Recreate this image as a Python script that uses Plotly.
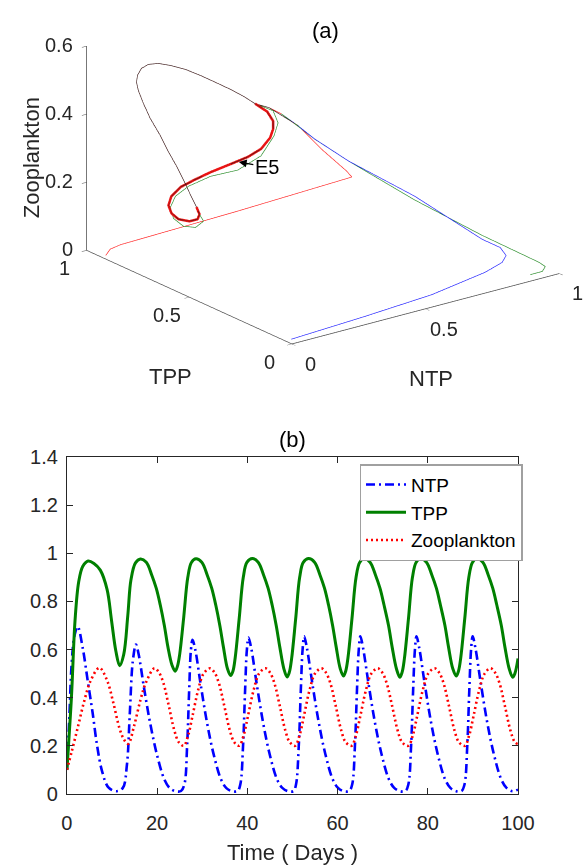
import plotly.graph_objects as go

FONT = "Liberation Sans"

# ---------------- panel (b): time series ----------------
ntp_t = [0.0, 0.5, 1.05, 1.7, 2.4, 3.5, 4.6, 5.7, 6.7, 7.8, 9.2, 11.0, 12.4, 13.3, 13.95, 14.6, 15.3,
         15.9, 17.1, 18.5, 20.0, 21.6, 22.8, 24.1, 25.3, 26.05, 26.65, 27.1, 27.5, 27.85,
         28.45, 29.65, 31.05, 32.55, 34.15, 35.35, 36.65, 37.85, 38.45, 39.05, 39.5, 39.9, 40.25,
         40.85, 42.05, 43.45, 44.95, 46.55, 47.75, 49.05, 50.25, 50.8, 51.4, 51.85, 52.25, 52.6,
         53.2, 54.4, 55.8, 57.3, 58.9, 60.1, 61.4, 62.6, 63.25, 63.85, 64.3, 64.7, 65.05,
         65.65, 66.85, 68.25, 69.75, 71.35, 72.55, 73.85, 75.05, 75.7, 76.3, 76.75, 77.15, 77.5,
         78.1, 79.3, 80.7, 82.2, 83.8, 85.0, 86.3, 87.5, 88.15, 88.75, 89.2, 89.6, 89.95,
         90.55, 91.75, 93.15, 94.65, 96.25, 97.45, 98.75, 100.0]
ntp_v = [0.10, 0.30, 0.54, 0.66, 0.695, 0.607, 0.472, 0.337, 0.20, 0.094, 0.027, 0.011, 0.025, 0.12, 0.337, 0.55, 0.621,
         0.58, 0.44, 0.29, 0.16, 0.06, 0.024, 0.011, 0.012, 0.04, 0.2, 0.43, 0.6, 0.64,
         0.60, 0.455, 0.297, 0.163, 0.061, 0.024, 0.011, 0.012, 0.04, 0.2, 0.43, 0.6, 0.65,
         0.607, 0.46, 0.30, 0.165, 0.062, 0.025, 0.011, 0.012, 0.04, 0.2, 0.43, 0.6, 0.655,
         0.607, 0.46, 0.30, 0.165, 0.062, 0.025, 0.011, 0.012, 0.04, 0.2, 0.43, 0.6, 0.655,
         0.607, 0.46, 0.30, 0.165, 0.062, 0.025, 0.011, 0.012, 0.04, 0.2, 0.43, 0.6, 0.655,
         0.607, 0.46, 0.30, 0.165, 0.062, 0.025, 0.011, 0.012, 0.04, 0.2, 0.43, 0.6, 0.655,
         0.607, 0.46, 0.30, 0.165, 0.062, 0.025, 0.011, 0.018]

tpp_t = [0.0, 1.0, 1.8, 2.6, 3.5, 4.7, 6.0, 7.4, 8.9, 9.9, 10.85, 11.7, 12.6, 13.5, 14.2, 15.2, 16.3,
         17.6, 18.8, 19.8, 20.7, 21.6, 22.4, 23.3, 24.0, 24.5, 25.0, 25.9, 26.8, 27.6, 28.6,
         29.9, 31.1, 32.1, 33.0, 33.9, 34.7, 35.6, 36.3, 36.8, 37.3, 38.2, 39.1, 39.9, 41.1,
         42.4, 43.6, 44.6, 45.5, 46.4, 47.2, 48.1, 48.8, 49.3, 49.8, 50.7, 51.6, 52.4, 53.6,
         54.9, 56.1, 57.1, 58.0, 58.9, 59.7, 60.6, 61.3, 61.8, 62.3, 63.2, 64.1, 64.9, 65.9,
         67.2, 68.4, 69.4, 70.3, 71.3, 72.1, 73.05, 73.8, 74.3, 74.8, 75.7, 76.6, 77.4, 78.4,
         79.7, 80.9, 81.9, 82.8, 83.8, 84.6, 85.55, 86.3, 86.8, 87.3, 88.2, 89.1, 89.9, 90.9,
         92.2, 93.4, 94.4, 95.3, 96.3, 97.1, 98.05, 98.8, 99.3, 100.0]
tpp_v = [0.10, 0.40, 0.72, 0.88, 0.945, 0.968, 0.958, 0.93, 0.85, 0.72, 0.594, 0.533, 0.58, 0.742, 0.89, 0.96, 0.976,
         0.963, 0.91, 0.855, 0.785, 0.70, 0.61, 0.535, 0.51, 0.53, 0.58, 0.735, 0.90, 0.962, 0.977,
         0.963, 0.91, 0.855, 0.785, 0.70, 0.61, 0.52, 0.492, 0.51, 0.565, 0.73, 0.90, 0.962, 0.978,
         0.963, 0.91, 0.855, 0.785, 0.70, 0.61, 0.52, 0.486, 0.505, 0.56, 0.725, 0.90, 0.962, 0.978,
         0.963, 0.91, 0.855, 0.785, 0.70, 0.61, 0.52, 0.49, 0.51, 0.565, 0.73, 0.90, 0.962, 0.978,
         0.963, 0.91, 0.855, 0.785, 0.70, 0.61, 0.52, 0.485, 0.505, 0.56, 0.725, 0.90, 0.962, 0.978,
         0.963, 0.91, 0.855, 0.785, 0.70, 0.61, 0.52, 0.49, 0.51, 0.565, 0.73, 0.90, 0.962, 0.978,
         0.963, 0.91, 0.855, 0.785, 0.70, 0.61, 0.52, 0.485, 0.50, 0.563]

zoo_t = [0.0, 1.05, 2.5, 3.9, 5.3, 7.2, 8.9, 10.3, 11.7, 12.7, 13.6, 14.9, 16.3, 17.4, 19.4,
         20.4, 21.4, 22.6, 23.8, 24.8, 25.9, 26.9, 27.8, 29.1, 30.3, 31.7,
         32.7, 33.7, 34.9, 36.1, 37.1, 38.2, 39.2, 40.1, 41.4, 42.6, 44.0,
         45.0, 46.0, 47.2, 48.4, 49.4, 50.6, 51.6, 52.5, 53.8, 55.0, 56.4,
         57.4, 58.4, 59.6, 60.8, 61.8, 63.1, 64.1, 65.0, 66.3, 67.5, 68.9,
         69.9, 70.9, 72.1, 73.3, 74.3, 75.7, 76.7, 77.6, 78.9, 80.1, 81.5,
         82.5, 83.5, 84.7, 85.9, 86.9, 88.2, 89.2, 90.1, 91.4, 92.6, 93.9,
         94.9, 95.9, 97.1, 98.3, 99.3, 100.0]
zoo_v = [0.10, 0.175, 0.283, 0.39, 0.472, 0.524, 0.472, 0.378, 0.27, 0.225, 0.208, 0.283, 0.39, 0.457, 0.522,
         0.505, 0.46, 0.365, 0.265, 0.215, 0.20, 0.245, 0.32, 0.432, 0.50, 0.522,
         0.505, 0.46, 0.365, 0.265, 0.215, 0.20, 0.245, 0.32, 0.432, 0.50, 0.522,
         0.505, 0.46, 0.365, 0.265, 0.215, 0.20, 0.245, 0.32, 0.432, 0.50, 0.522,
         0.505, 0.46, 0.365, 0.265, 0.215, 0.20, 0.245, 0.32, 0.432, 0.50, 0.522,
         0.505, 0.46, 0.365, 0.265, 0.215, 0.20, 0.245, 0.32, 0.432, 0.50, 0.522,
         0.505, 0.46, 0.365, 0.265, 0.215, 0.20, 0.245, 0.32, 0.432, 0.50, 0.522,
         0.505, 0.46, 0.365, 0.265, 0.215, 0.207]

x_ticks = [0, 20, 40, 60, 80, 100]
y_ticks = [0, 0.2, 0.4, 0.6, 0.8, 1.0, 1.2, 1.4]
y_ticktext = ["0", "0.2", "0.4", "0.6", "0.8", "1", "1.2", "1.4"]

# ---------------- panel (a): phase-space trajectories ----------------
# limit cycle (NTP, TPP, Zooplankton)
cyc_ntp = [0.628, 0.629, 0.599, 0.569, 0.523, 0.464, 0.404, 0.340, 0.272, 0.215, 0.177, 0.151, 0.121,
           0.102, 0.086, 0.082, 0.077, 0.084, 0.076, 0.071, 0.055, 0.039, 0.027, 0.023, 0.0195, 0.016,
           0.0134, 0.0256, 0.0526, 0.102, 0.175, 0.247, 0.326, 0.409, 0.484, 0.545, 0.590, 0.613]
cyc_tpp = [0.91, 0.94, 0.96, 0.975, 0.978, 0.975, 0.97, 0.96, 0.945, 0.93, 0.93, 0.93, 0.91,
           0.89, 0.86, 0.83, 0.79, 0.75, 0.70, 0.65, 0.59, 0.54, 0.50, 0.48, 0.485, 0.52,
           0.57, 0.62, 0.67, 0.72, 0.77, 0.80, 0.82, 0.83, 0.845, 0.86, 0.875, 0.89]
cyc_zoo = [0.275, 0.294, 0.318, 0.341, 0.370, 0.404, 0.438, 0.472, 0.502, 0.524, 0.529, 0.5225, 0.514,
           0.503, 0.490, 0.461, 0.429, 0.388, 0.356, 0.324, 0.296, 0.275, 0.259, 0.244, 0.229, 0.214,
           0.207, 0.208, 0.212, 0.215, 0.213, 0.210, 0.212, 0.216, 0.217, 0.224, 0.243, 0.260]

# point where the transients merge into the cycle
join_ntp, join_tpp, join_zoo = [0.644], [0.95], [0.2997]

red_ntp = [0.010, 0.027, 0.065, 0.50, 0.93, 0.910, 0.816, 0.741, 0.674]
red_tpp = [0.92, 0.92, 0.92, 0.92, 0.92, 0.92, 0.92, 0.92, 0.93]
red_zoo = [0.005, 0.020, 0.025, 0.033, 0.045, 0.067, 0.151, 0.226, 0.281]

blue_ntp = [0.005, 0.278, 0.534, 0.745, 0.824, 0.870, 0.894, 0.880, 0.820, 0.749, 0.713, 0.699, 0.674]
blue_tpp = [0.010, 0.010, 0.015, 0.030, 0.050, 0.090, 0.150, 0.220, 0.470, 0.700, 0.820, 0.880, 0.930]
blue_zoo = [0.010, 0.020, 0.030, 0.048, 0.055, 0.055, 0.057, 0.065, 0.135, 0.190, 0.230, 0.254, 0.281]

green_ntp = [0.895, 0.944, 0.978, 0.971, 0.964, 0.889, 0.779, 0.721, 0.696, 0.674]
green_tpp = [0.005, 0.010, 0.040, 0.060, 0.330, 0.560, 0.740, 0.830, 0.880, 0.930]
green_zoo = [0.017, 0.015, 0.014, 0.022, 0.029, 0.085, 0.173, 0.225, 0.255, 0.281]

# wider first loop of the green trajectory
gout_ntp = [0.0305, 0.0235, 0.0169, 0.0252, 0.060, 0.125, 0.212, 0.318, 0.427, 0.529, 0.601, 0.639, 0.651]
gout_tpp = [0.47, 0.50, 0.55, 0.61, 0.67, 0.73, 0.78, 0.81, 0.82, 0.84, 0.87, 0.90, 0.94]
gout_zoo = [0.225, 0.200, 0.191, 0.196, 0.205, 0.2075, 0.205, 0.204, 0.197, 0.212, 0.248, 0.270, 0.292]

black_ntp = [0.70]
black_tpp = [0.88]
black_zoo = [0.254]

e5_point = (0.443, 0.835, 0.213)

ntp_3d_ticks = [0, 0.5, 1]
tpp_3d_ticks = [0, 0.5, 1]
zoo_3d_ticks = [0, 0.2, 0.4, 0.6]
ntp_3d_labels = ["0", "0.5", "1"]
tpp_3d_labels = ["0", "0.5", "1"]
zoo_3d_labels = ["0", "0.2", "0.4", "0.6"]

# ---------------- build trajectories ----------------
def closed(a):
    return a + a[:1]

cyc = (cyc_ntp, cyc_tpp, cyc_zoo)
joins = (join_ntp, join_tpp, join_zoo)
gout = (gout_ntp, gout_tpp, gout_zoo)


def trajectory(tr, with_outer=False):
    out = []
    for k in range(3):
        if with_outer:
            seq = tr[k] + joins[k] + cyc[k][2:24] + gout[k] + cyc[k][2:]
        else:
            seq = tr[k] + joins[k] + cyc[k][2:]
        out.append(seq + closed(cyc[k]))
    return out


fig = go.Figure()

g3 = trajectory((green_ntp, green_tpp, green_zoo), with_outer=True)
b3 = trajectory((blue_ntp, blue_tpp, blue_zoo))
r3 = trajectory((red_ntp, red_tpp, red_zoo))
k3 = trajectory((black_ntp, black_tpp, black_zoo))

band = [cyc[k][22:] + cyc[k][:3] for k in range(3)]

fig.add_trace(go.Scatter3d(x=band[0], y=band[1], z=band[2], mode="lines",
                           line=dict(color="rgb(235,20,20)", width=5), showlegend=False, hoverinfo="skip"))
for tr, col in [(g3, "rgb(40,140,40)"), (b3, "rgb(30,30,255)"), (r3, "rgb(255,30,30)"), (k3, "rgb(60,25,25)")]:
    fig.add_trace(go.Scatter3d(x=tr[0], y=tr[1], z=tr[2], mode="lines",
                               line=dict(color=col, width=1.3), showlegend=False, hoverinfo="skip"))

# ---------------- panel (b) traces ----------------
fig.add_trace(go.Scatter(x=ntp_t, y=ntp_v, mode="lines", name="NTP", line_shape="spline",
                         line=dict(color="rgb(0,0,255)", width=2.6, dash="9px,4px,2px,4px")))
fig.add_trace(go.Scatter(x=tpp_t, y=tpp_v, mode="lines", name="TPP", line_shape="spline",
                         line=dict(color="rgb(0,128,0)", width=3)))
fig.add_trace(go.Scatter(x=zoo_t, y=zoo_v, mode="lines", name="Zooplankton", line_shape="spline",
                         line=dict(color="rgb(255,0,0)", width=2.6, dash="2px,3px")))

W, H = 584, 866
ax3 = dict(showgrid=False, zeroline=False, showbackground=False, showspikes=False,
           showline=True, linecolor="#4a4a4a", linewidth=1.5,
           ticks="outside", ticklen=6, tickcolor="#4a4a4a", showticklabels=False,
           title=dict(text=""))

d = 1.2
S = 1.768
CZ = -0.231

tickfont3 = dict(family=FONT, size=20, color="#262626")
scene_ann = []
for v, lab in zip(ntp_3d_ticks, ntp_3d_labels):
    scene_ann.append(dict(x=v, y=0, z=0, text=lab, showarrow=False, xshift=19, yshift=-20, font=tickfont3))
for v, lab in zip(tpp_3d_ticks, tpp_3d_labels):
    scene_ann.append(dict(x=0, y=v, z=0, text=lab, showarrow=False, xshift=-22, yshift=-18, font=tickfont3))
for v, lab in zip(zoo_3d_ticks, zoo_3d_labels):
    scene_ann.append(dict(x=0, y=1, z=v, text=lab, showarrow=False, xanchor="right", xshift=-12, yshift=1,
                          font=tickfont3))
scene_ann.append(dict(x=e5_point[0], y=e5_point[1], z=e5_point[2], text="E5",
                      showarrow=True, arrowhead=2, arrowsize=1.3, arrowwidth=1.2, arrowcolor="black",
                      ax=28, ay=5, font=dict(family=FONT, size=20, color="black")))


def ann(text, x, y, size=22, color="#262626", angle=0):
    return dict(text=text, x=x / W, y=1 - y / H, xref="paper", yref="paper", showarrow=False,
                xanchor="center", yanchor="middle", textangle=angle,
                font=dict(family=FONT, size=size, color=color))


fig.update_layout(
    width=W, height=H, margin=dict(l=0, r=0, t=0, b=0),
    paper_bgcolor="white", plot_bgcolor="white",
    scene=dict(
        domain=dict(x=[0.1337, 0.9956], y=[0.55, 1.0]),
        xaxis=dict(ax3, range=[0, 1], tickvals=ntp_3d_ticks),
        yaxis=dict(ax3, range=[0, 1], tickvals=tpp_3d_ticks),
        zaxis=dict(ax3, range=[0, 0.6], tickvals=zoo_3d_ticks),
        aspectmode="manual", aspectratio=dict(x=1 * S, y=1.01 * S, z=0.648 * S),
        camera=dict(projection=dict(type="orthographic"),
                    eye=dict(x=-0.5675 * d, y=-0.7469 * d, z=0.3465 * d + CZ),
                    up=dict(x=0, y=0, z=1), center=dict(x=0, y=0, z=CZ)),
        annotations=scene_ann,
    ),
    xaxis=dict(domain=[63.4 / W, 533 / W], range=[0, 100], tickvals=x_ticks,
               ticks="inside", ticklen=6, tickcolor="#262626", mirror="ticks",
               showline=True, linecolor="#262626", linewidth=1, showgrid=False, zeroline=False,
               tickfont=dict(family=FONT, size=20, color="#262626"), ticklabelstandoff=11),
    yaxis=dict(domain=[1 - 803.3 / H, 1 - 457.7 / H], range=[0, 1.4], tickvals=y_ticks, ticktext=y_ticktext,
               ticks="inside", ticklen=6, tickcolor="#262626", mirror="ticks",
               showline=True, linecolor="#262626", linewidth=1, showgrid=False, zeroline=False,
               tickfont=dict(family=FONT, size=20, color="#262626"), ticklabelstandoff=4),
    legend=dict(x=368 / W, y=1 - 465 / H, xanchor="left", yanchor="top",
                bordercolor="#a0a0a0", borderwidth=1.5, bgcolor="white",
                font=dict(family=FONT, size=19, color="black"), itemwidth=40, tracegroupgap=0),
    annotations=[
        ann("(a)", 333, 20, color="black"),
        ann("Zooplankton", 26, 150, angle=-90),
        ann("TPP", 171, 375),
        ann("NTP", 442, 377),
        ann("(b)", 298, 440, color="black"),
        ann("Time ( Days )", 298, 863),
    ],
)

fig.write_html("out.html")
